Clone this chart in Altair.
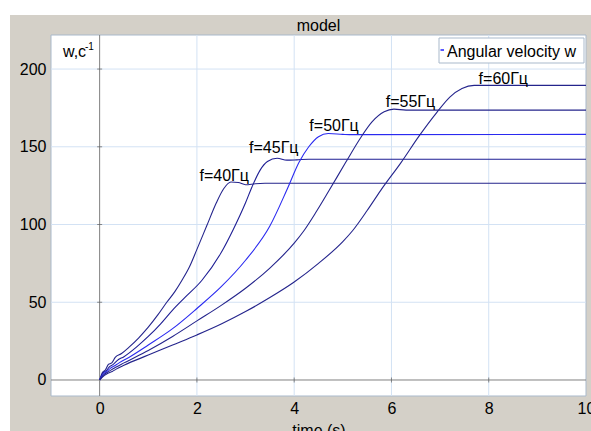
import altair as alt
import pandas as pd

# ---- data ----
freqs = [40, 45, 50, 55, 60]

t40 = [0, 0.06, 0.12, 0.18, 0.25, 0.32, 0.45, 0.6, 0.8, 1.0, 1.2, 1.38, 1.55, 1.69, 1.85, 2.0, 2.2, 2.4, 2.55, 2.7, 2.85, 3.0, 3.2, 3.4, 10]
w40 = [0, 5, 6.5, 10, 11, 14.5, 17, 21, 27, 34, 42, 50, 57, 64, 73, 84, 99, 114, 123, 127.3, 127, 125.6, 126.2, 126.5, 126.5]

t45 = [0, 0.07, 0.14, 0.2, 0.28, 0.36, 0.5, 0.75, 1.0, 1.25, 1.5, 1.75, 2.1, 2.5, 2.75, 3.0, 3.13, 3.3, 3.45, 3.65, 3.85, 4.05, 4.3, 10]
w45 = [0, 4.5, 6, 8.5, 10, 12.5, 15, 21, 28, 36, 45, 53, 64, 82, 97, 114, 124, 135, 140.5, 142.6, 141.4, 141.6, 142, 142]

t50 = [0, 0.08, 0.15, 0.22, 0.3, 0.4, 0.6, 1.0, 1.5, 2.0, 2.5, 3.0, 3.5, 3.86, 4.1, 4.3, 4.5, 4.7, 5.0, 5.2, 10]
w50 = [0, 4, 5.5, 7.5, 9, 11, 14.5, 22.5, 33, 46, 60, 77, 99, 123, 140, 150, 156.5, 158.5, 158, 157.8, 158]

t55 = [0, 0.09, 0.16, 0.24, 0.32, 0.5, 1.0, 1.5, 2.0, 2.5, 3.0, 3.5, 4.0, 4.2, 4.45, 4.72, 5.06, 5.37, 5.6, 5.85, 6.05, 6.3, 10]
w55 = [0, 3.5, 5, 6.5, 8, 11, 19, 28, 38, 48, 59, 72, 88, 96, 108, 122, 140, 156, 166, 172.5, 174.2, 173.6, 173.6]

t60 = [0, 0.1, 0.18, 0.26, 0.34, 0.5, 1.0, 1.5, 2.0, 2.5, 3.0, 3.5, 4.0, 4.5, 5.0, 5.2, 5.5, 5.78, 6.2, 6.57, 6.93, 7.2, 7.45, 7.7, 10]
w60 = [0, 3, 4.5, 5.5, 7, 9.5, 16, 22.5, 29, 36, 44, 53, 63, 75, 89, 96, 109, 122, 140, 157, 172, 182, 187.5, 189.5, 189.5]

label_text = ["f=40Гц", "f=45Гц", "f=50Гц", "f=55Гц", "f=60Гц"]
label_t = [2.56, 3.58, 4.82, 6.39, 8.3]
label_w = [128, 146, 160, 175.8, 190.7]

x_ticks = [0, 2, 4, 6, 8, 10]
y_ticks = [0, 50, 100, 150, 200]
x_grid = [2, 4, 6, 8]
y_grid = [50, 100, 150, 200]

# ---- build tables ----
series = {40: (t40, w40), 45: (t45, w45), 50: (t50, w50), 55: (t55, w55), 60: (t60, w60)}
rows = []
for f in freqs:
    ts, ws = series[f]
    for i, (a, b) in enumerate(zip(ts, ws)):
        rows.append({"f": f, "t": a, "w": b, "i": i})
df = pd.DataFrame(rows)
labels = pd.DataFrame({"t": label_t, "w": label_w, "txt": label_text})

W, H = 535, 361
xs = alt.Scale(domain=[-1, 10], nice=False, zero=False)
ys = alt.Scale(domain=[-10.3, 221.9], nice=False, zero=False)
FONT = "Liberation Sans"
one = pd.DataFrame({"a": [0]})

gray = alt.Chart(one).mark_rect(color="#D4D0C8").encode(
    x=alt.value(-41), x2=alt.value(540), y=alt.value(-20), y2=alt.value(396))
plotbg = alt.Chart(one).mark_rect(fill="white", stroke="#A9B9CB", strokeWidth=1).encode(
    x=alt.value(0), x2=alt.value(W), y=alt.value(0), y2=alt.value(H))

xgrid = alt.Chart(pd.DataFrame({"t": x_grid})).mark_rule(color="#D3E2F4", strokeWidth=1).encode(
    x=alt.X("t:Q", scale=xs, axis=alt.Axis(values=x_ticks, grid=False, domain=False, ticks=False,
                                             labelFontSize=16, labelFont=FONT, labelColor="black",
                                             labelPadding=4, labelFlush=False, labelOverlap=False,
                                             title="time (s)", titleFont=FONT,
                                             titleFontSize=16, titleFontWeight="normal",
                                             titleColor="black", titleY=39,
                                             titleBaseline="alphabetic", zindex=1)),
    y=alt.value(0), y2=alt.value(H))
ygrid = alt.Chart(pd.DataFrame({"w": y_grid})).mark_rule(color="#D3E2F4", strokeWidth=1).encode(
    y=alt.Y("w:Q", scale=ys, axis=alt.Axis(values=y_ticks, grid=False, domain=False, ticks=False,
                                             labelFontSize=16, labelFont=FONT, labelColor="black",
                                             labelPadding=5, labelFlush=False, title=None, zindex=1)),
    x=alt.value(0), x2=alt.value(W))

zero_v = alt.Chart(pd.DataFrame({"t": [0]})).mark_rule(color="#808080", strokeWidth=1).encode(
    x=alt.X("t:Q", scale=xs), y=alt.value(0), y2=alt.value(H))
zero_h = alt.Chart(pd.DataFrame({"w": [0]})).mark_rule(color="#808080", strokeWidth=1).encode(
    y=alt.Y("w:Q", scale=ys), x=alt.value(0), x2=alt.value(W))

xt = alt.Chart(pd.DataFrame({"t": x_grid, "w": [0] * len(x_grid)})).mark_tick(
    orient="vertical", size=5, thickness=1, color="#606060").encode(
    x=alt.X("t:Q", scale=xs), y=alt.Y("w:Q", scale=ys))
yt = alt.Chart(pd.DataFrame({"w": y_grid, "t": [0] * len(y_grid)})).mark_tick(
    orient="horizontal", size=5, thickness=1, color="#606060").encode(
    x=alt.X("t:Q", scale=xs), y=alt.Y("w:Q", scale=ys))

lines = alt.Chart(df).mark_line(strokeWidth=1.1, interpolate="monotone").encode(
    x=alt.X("t:Q", scale=xs),
    y=alt.Y("w:Q", scale=ys),
    color=alt.Color("f:N", scale=alt.Scale(domain=freqs,
                    range=["#24248C", "#1E1E94", "#2A2AF0", "#24248C", "#24248C"]), legend=None),
    detail="f:N",
    order="i:Q")

ann = alt.Chart(labels).mark_text(font=FONT, fontSize=16, color="black", align="center",
                                  baseline="alphabetic").encode(
    x=alt.X("t:Q", scale=xs), y=alt.Y("w:Q", scale=ys), text="txt:N")

legbox = alt.Chart(one).mark_rect(fill="white", stroke="#A9B9CB", strokeWidth=1).encode(
    x=alt.value(388), x2=alt.value(533), y=alt.value(3), y2=alt.value(28))
legdash = alt.Chart(one).mark_rule(color="#2020FF", strokeWidth=1.5).encode(
    x=alt.value(389.5), x2=alt.value(393), y=alt.value(15))
legtext = alt.Chart(pd.DataFrame({"txt": ["Angular velocity w"]})).mark_text(
    font=FONT, fontSize=16, color="black", align="left", baseline="alphabetic").encode(
    x=alt.value(396), y=alt.value(22), text="txt:N")

ylab = alt.Chart(pd.DataFrame({"txt": ["w,c"]})).mark_text(
    font=FONT, fontSize=16, color="black", align="left", baseline="alphabetic").encode(
    x=alt.value(12), y=alt.value(22), text="txt:N")
ysup = alt.Chart(pd.DataFrame({"txt": ["-1"]})).mark_text(
    font=FONT, fontSize=10, color="black", align="left", baseline="alphabetic").encode(
    x=alt.value(34), y=alt.value(15), text="txt:N")

title = alt.Chart(pd.DataFrame({"txt": ["model"]})).mark_text(
    font=FONT, fontSize=16, color="black", align="center", baseline="alphabetic").encode(
    x=alt.value(W / 2), y=alt.value(-4), text="txt:N")

chart = alt.layer(gray, plotbg, xgrid, ygrid, zero_v, zero_h, xt, yt, lines, ann,
                  legbox, legdash, legtext, ylab, ysup, title).properties(
    width=W, height=H,
    autosize=alt.AutoSizeParams(type="none"),
    padding={"left": 51, "top": 35, "right": 5, "bottom": 35},
).configure(background="white").configure_view(stroke=None)

chart.save("out.html", embed_options={"renderer": "svg", "actions": False})
